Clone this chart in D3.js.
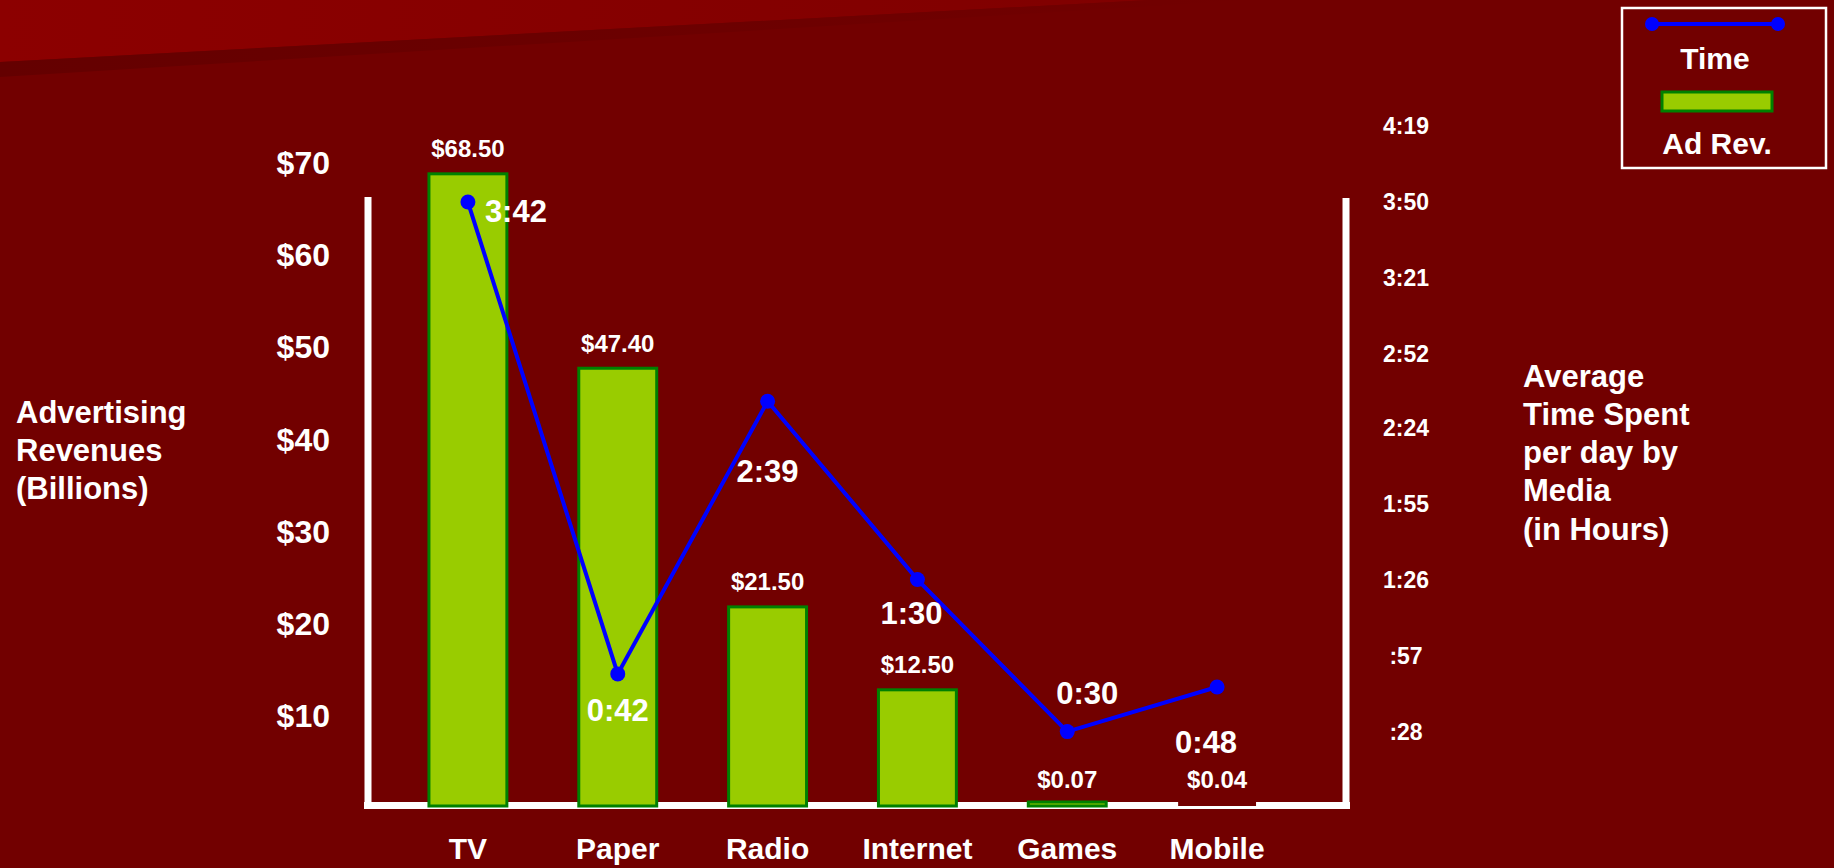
<!DOCTYPE html>
<html>
<head>
<meta charset="utf-8">
<script src="https://cdn.jsdelivr.net/npm/d3@7"></script>
<style>
  html, body { margin: 0; padding: 0; background: #720000; }
  svg { display: block; }
  text { font-family: "Liberation Sans", Arial, sans-serif; font-weight: bold; fill: #fff; }
</style>
</head>
<body>
<svg id="grafico"></svg>
<script>
// dados do gráfico
let categorias = ["TV", "Paper", "Radio", "Internet", "Games", "Mobile"];
let receita = [68.50, 47.40, 21.50, 12.50, 0.07, 0.04];          // bilhões de dólares
let tempo = [230, 50, 154, 86, 28, 45];
let rotulosTempo = ["3:42", "0:42", "2:39", "1:30", "0:30", "0:48"];
let ticksReceita = [10, 20, 30, 40, 50, 60, 70];
let ticksTempo = [28, 57, 86, 115, 144, 172, 201, 230, 259];
let rotulosTicksTempo = [":28", ":57", "1:26", "1:55", "2:24", "2:52", "3:21", "3:50", "4:19"];

let width = 1834, height = 868;
let fundo = "#720000";

let svg = d3.select("#grafico")
    .attr("width", width)
    .attr("height", height)
    .attr("viewBox", "0 0 " + width + " " + height);

svg.append("rect").attr("width", width).attr("height", height).attr("fill", fundo);

// faixa mais clara no topo
let defs = svg.append("defs");
let grad = defs.append("linearGradient").attr("id", "faixa");
grad.append("stop").attr("offset", "0%").attr("stop-color", "#8c0000");
grad.append("stop").attr("offset", "100%").attr("stop-color", "#800000");
let sombra = defs.append("linearGradient").attr("id", "sombra");
sombra.append("stop").attr("offset", "0%").attr("stop-color", "#640000");
sombra.append("stop").attr("offset", "100%").attr("stop-color", "#720000");

svg.append("path").attr("d", "M0,62 L1150,0 L0,0 Z").attr("fill", "url(#faixa)");
svg.append("path").attr("d", "M0,62 L1150,0 L1250,0 L0,77 Z").attr("fill", "url(#sombra)");

// escalas
let x = d3.scaleBand()
    .domain(categorias)
    .range([390, 1295])
    .paddingInner(0.48)
    .paddingOuter(0.26);

let y = d3.scaleLinear().domain([0, 70]).range([805, 160]);
let yTempo = d3.scaleLinear().domain([0, 259]).range([805, 126]);

let centro = (d) => x(d) + x.bandwidth() / 2;

// eixos desenhados como linhas brancas
let eixos = svg.append("g").attr("stroke", "#fff").attr("fill", "none");
eixos.append("line").attr("x1", 368).attr("x2", 368).attr("y1", 197).attr("y2", 809).attr("stroke-width", 7);
eixos.append("line").attr("x1", 1346).attr("x2", 1346).attr("y1", 198).attr("y2", 809).attr("stroke-width", 7);
eixos.append("line").attr("x1", 364).attr("x2", 1350).attr("y1", 805.5).attr("y2", 805.5).attr("stroke-width", 7);

// rótulos do eixo esquerdo
svg.append("g").selectAll("text")
    .data(ticksReceita)
    .enter().append("text")
    .attr("x", 330)
    .attr("y", (d) => y(d) + 3)
    .attr("dy", "0.35em")
    .attr("text-anchor", "end")
    .style("font-size", "32px")
    .text((d) => "$" + d);

// rótulos do eixo direito
svg.append("g").selectAll("text")
    .data(ticksTempo)
    .enter().append("text")
    .attr("x", 1406)
    .attr("y", (d) => yTempo(d))
    .attr("dy", "0.35em")
    .attr("text-anchor", "middle")
    .style("font-size", "23px")
    .text((d, i) => rotulosTicksTempo[i]);

// barras
let dadosBarras = categorias.map((c, i) => ({ cat: c, valor: receita[i] }));

svg.append("g").selectAll("rect")
    .data(dadosBarras)
    .enter().append("rect")
    .attr("x", (d) => x(d.cat))
    .attr("width", x.bandwidth())
    .attr("y", (d) => Math.min(y(d.valor), 802))
    .attr("height", (d) => Math.max(806 - y(d.valor), 4))
    .attr("fill", (d) => d.cat == "Mobile" ? fundo : "#99cc00")
    .attr("stroke", (d) => d.cat == "Mobile" ? "none" : "#008000")
    .attr("stroke-width", 3);

svg.append("g").selectAll("text")
    .data(dadosBarras)
    .enter().append("text")
    .attr("x", (d) => centro(d.cat))
    .attr("y", (d) => y(d.valor) - 25)
    .attr("dy", "0.35em")
    .attr("text-anchor", "middle")
    .style("font-size", "24px")
    .text((d) => "$" + d.valor.toFixed(2));

// linha do tempo gasto
let dadosLinha = categorias.map((c, i) => ({ cat: c, valor: tempo[i], rotulo: rotulosTempo[i] }));

let linha = d3.line()
    .x((d) => centro(d.cat))
    .y((d) => yTempo(d.valor));

svg.append("path")
    .datum(dadosLinha)
    .attr("d", linha)
    .attr("fill", "none")
    .attr("stroke", "#0000ff")
    .attr("stroke-width", 4);

svg.append("g").selectAll("circle")
    .data(dadosLinha)
    .enter().append("circle")
    .attr("cx", (d) => centro(d.cat))
    .attr("cy", (d) => yTempo(d.valor))
    .attr("r", 7.5)
    .attr("fill", "#0000ff");

// deslocamento de cada rótulo em relação ao ponto
let desloc = [[48, 9], [0, 36], [0, 70], [-6, 34], [20, -38], [-11, 55]];

svg.append("g").selectAll("text")
    .data(dadosLinha)
    .enter().append("text")
    .attr("x", (d, i) => centro(d.cat) + desloc[i][0])
    .attr("y", (d, i) => yTempo(d.valor) + desloc[i][1])
    .attr("dy", "0.35em")
    .attr("text-anchor", "middle")
    .style("font-size", "31px")
    .text((d) => d.rotulo);

// categorias
svg.append("g").selectAll("text")
    .data(categorias)
    .enter().append("text")
    .attr("x", (d) => centro(d))
    .attr("y", 848)
    .attr("dy", "0.35em")
    .attr("text-anchor", "middle")
    .style("font-size", "30px")
    .text((d) => d);

// títulos dos eixos
let tituloEsq = ["Advertising", "Revenues", "(Billions)"];
svg.append("g").selectAll("text")
    .data(tituloEsq)
    .enter().append("text")
    .attr("x", 16)
    .attr("y", (d, i) => 412 + i * 38)
    .attr("dy", "0.35em")
    .style("font-size", "31px")
    .text((d) => d);

let tituloDir = ["Average", "Time Spent", "per day by", "Media", "(in Hours)"];
svg.append("g").selectAll("text")
    .data(tituloDir)
    .enter().append("text")
    .attr("x", 1523)
    .attr("y", (d, i) => 376 + i * 38.2)
    .attr("dy", "0.35em")
    .style("font-size", "31px")
    .text((d) => d);

// legenda
let leg = svg.append("g");
leg.append("rect").attr("x", 1622).attr("y", 8).attr("width", 204).attr("height", 160)
    .attr("fill", "none").attr("stroke", "#fff").attr("stroke-width", 2.5);
leg.append("line").attr("x1", 1652).attr("x2", 1778).attr("y1", 24).attr("y2", 24)
    .attr("stroke", "#0000ff").attr("stroke-width", 4);
leg.selectAll("circle").data([1652, 1778]).enter().append("circle")
    .attr("cx", (d) => d).attr("cy", 24).attr("r", 7).attr("fill", "#0000ff");
leg.append("text").attr("x", 1715).attr("y", 58).attr("dy", "0.35em")
    .attr("text-anchor", "middle").style("font-size", "30px").text("Time");
leg.append("rect").attr("x", 1662).attr("y", 92).attr("width", 110).attr("height", 19)
    .attr("fill", "#99cc00").attr("stroke", "#008000").attr("stroke-width", 3);
leg.append("text").attr("x", 1717).attr("y", 143).attr("dy", "0.35em")
    .attr("text-anchor", "middle").style("font-size", "30px").text("Ad Rev.");
</script>
</body>
</html>
